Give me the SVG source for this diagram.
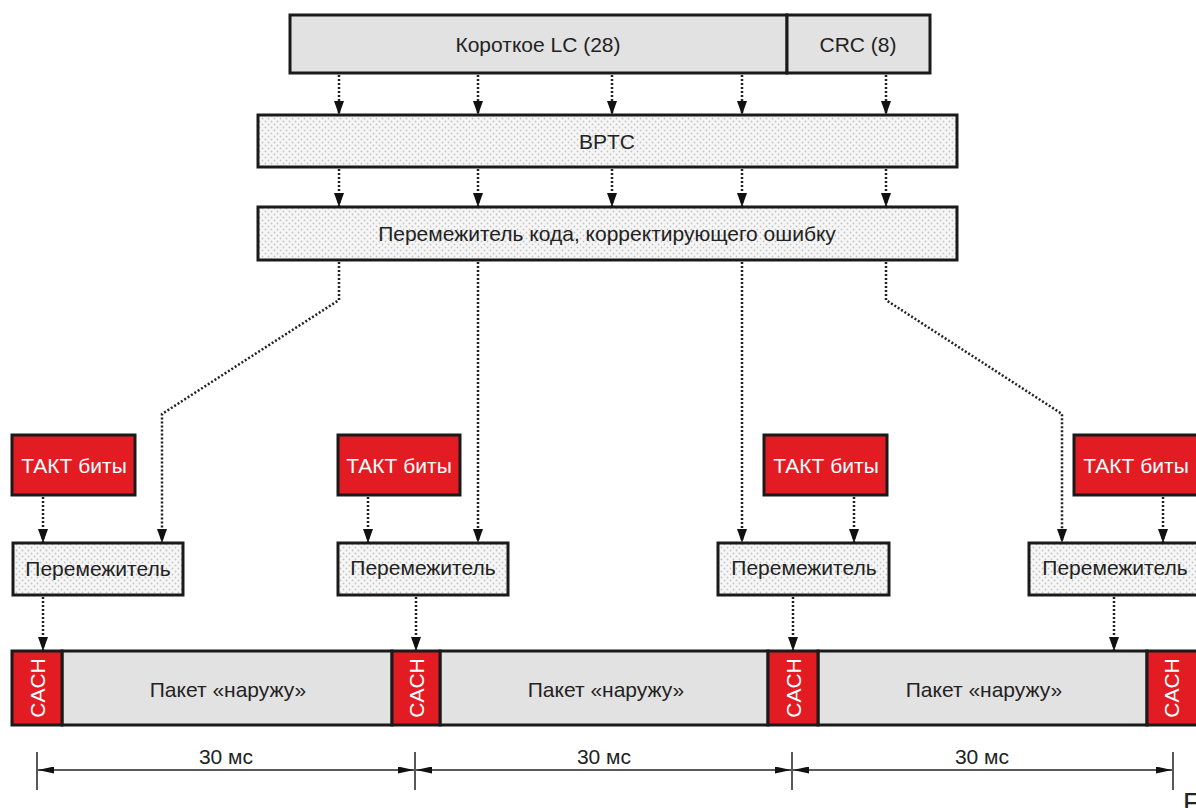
<svg xmlns="http://www.w3.org/2000/svg" width="1196" height="808" viewBox="0 0 1196 808">
<style>
text{font-family:"Liberation Sans",Arial,sans-serif;font-size:21px;fill:#222;text-anchor:middle;dominant-baseline:central}
.gray{fill:#e2e2e2;stroke:#1a1a1a;stroke-width:3}
.dot{fill:url(#dots);stroke:#1a1a1a;stroke-width:3}
.red{fill:#e31b23;stroke:#1a1a1a;stroke-width:3}
.w{fill:#fff}
.conn{fill:none;stroke:#222;stroke-width:2.5;stroke-dasharray:2 2}
.dim{fill:none;stroke:#222;stroke-width:1.5}
</style>
<defs>
<pattern id="dots" width="6" height="6" patternUnits="userSpaceOnUse">
<rect width="6" height="6" fill="#f6f6f6"/>
<circle cx="1.5" cy="1.5" r="0.9" fill="#c4c4c4"/>
<circle cx="4.5" cy="4.5" r="0.9" fill="#c4c4c4"/>
</pattern>
<marker id="ah" viewBox="0 0 14 10" refX="14" refY="5" markerWidth="14" markerHeight="10" orient="auto" markerUnits="userSpaceOnUse">
<path d="M0,0 L14,5 L0,10 z" fill="#111"/>
</marker>
<marker id="dh" viewBox="0 0 16 7" refX="16" refY="3.5" markerWidth="16" markerHeight="7" orient="auto-start-reverse" markerUnits="userSpaceOnUse">
<path d="M0,0 L16,3.5 L0,7 z" fill="#111"/>
</marker>
</defs>
<rect width="1196" height="808" fill="#fff"/>

<g id="lc"><rect class="gray" x="290" y="15" width="497" height="58"/><text x="538" y="44">Короткое LC (28)</text></g>
<g id="crc"><rect class="gray" x="787" y="15" width="143" height="58"/><text x="858" y="44">CRC (8)</text></g>
<g id="bptc"><rect class="dot" x="258" y="115" width="699" height="52"/><text x="607" y="141">BPTC</text></g>
<g id="fec"><rect class="dot" x="258" y="207" width="699" height="53"/><text x="607" y="233">Перемежитель кода, корректирующего ошибку</text></g>

<g id="takt1"><rect class="red" x="12" y="435" width="123" height="60"/><text class="w" x="74" y="465">ТАКТ биты</text></g>
<g id="takt2"><rect class="red" x="338" y="435" width="122" height="60"/><text class="w" x="399" y="465">ТАКТ биты</text></g>
<g id="takt3"><rect class="red" x="764" y="435" width="123" height="60"/><text class="w" x="826" y="465">ТАКТ биты</text></g>
<g id="takt4"><rect class="red" x="1074" y="435" width="130" height="60"/><text class="w" x="1136" y="465">ТАКТ биты</text></g>

<g id="il1"><rect class="dot" x="13" y="543" width="170" height="52"/><text x="98" y="568">Перемежитель</text></g>
<g id="il2"><rect class="dot" x="338" y="543" width="170" height="52"/><text x="423" y="567">Перемежитель</text></g>
<g id="il3"><rect class="dot" x="718" y="543" width="171" height="52"/><text x="804" y="567">Перемежитель</text></g>
<g id="il4"><rect class="dot" x="1029" y="543" width="175" height="52"/><text x="1115" y="567">Перемежитель</text></g>

<g id="pkt1"><rect class="gray" x="62" y="651" width="330" height="74"/><text x="228" y="689">Пакет «наружу»</text></g>
<g id="pkt2"><rect class="gray" x="440" y="651" width="328" height="74"/><text x="606" y="689">Пакет «наружу»</text></g>
<g id="pkt3"><rect class="gray" x="818" y="651" width="329" height="74"/><text x="984" y="689">Пакет «наружу»</text></g>
<g id="cach1"><rect class="red" x="12" y="651" width="50" height="74"/><text class="w" transform="translate(37 688) rotate(-90)" x="0" y="0">CACH</text></g>
<g id="cach2"><rect class="red" x="392" y="651" width="48" height="74"/><text class="w" transform="translate(416 688) rotate(-90)" x="0" y="0">CACH</text></g>
<g id="cach3"><rect class="red" x="768" y="651" width="50" height="74"/><text class="w" transform="translate(793 688) rotate(-90)" x="0" y="0">CACH</text></g>
<g id="cach4"><rect class="red" x="1147" y="651" width="55" height="74"/><text class="w" transform="translate(1171 688) rotate(-90)" x="0" y="0">CACH</text></g>

<g id="connectors">
<path class="conn" marker-end="url(#ah)" d="M339 75 V115"/>
<path class="conn" marker-end="url(#ah)" d="M478 75 V115"/>
<path class="conn" marker-end="url(#ah)" d="M612 75 V115"/>
<path class="conn" marker-end="url(#ah)" d="M742 75 V115"/>
<path class="conn" marker-end="url(#ah)" d="M886 75 V115"/>
<path class="conn" marker-end="url(#ah)" d="M339 169 V207"/>
<path class="conn" marker-end="url(#ah)" d="M478 169 V207"/>
<path class="conn" marker-end="url(#ah)" d="M612 169 V207"/>
<path class="conn" marker-end="url(#ah)" d="M742 169 V207"/>
<path class="conn" marker-end="url(#ah)" d="M886 169 V207"/>
<path class="conn" marker-end="url(#ah)" d="M339 262 V300 L162 414 V543"/>
<path class="conn" marker-end="url(#ah)" d="M478 262 V543"/>
<path class="conn" marker-end="url(#ah)" d="M742 262 V543"/>
<path class="conn" marker-end="url(#ah)" d="M886 262 V300 L1062 414 V543"/>
<path class="conn" marker-end="url(#ah)" d="M43 497 V543"/>
<path class="conn" marker-end="url(#ah)" d="M368 497 V543"/>
<path class="conn" marker-end="url(#ah)" d="M854 497 V543"/>
<path class="conn" marker-end="url(#ah)" d="M1163 497 V543"/>
<path class="conn" marker-end="url(#ah)" d="M43 597 V651"/>
<path class="conn" marker-end="url(#ah)" d="M416 597 V651"/>
<path class="conn" marker-end="url(#ah)" d="M793 597 V651"/>
<path class="conn" marker-end="url(#ah)" d="M1114 597 V651"/>
</g>

<g id="dimensions">
<path class="dim" d="M37 752 V790 M415 752 V790 M792 752 V790 M1173 752 V790"/>
<path class="dim" marker-start="url(#dh)" marker-end="url(#dh)" d="M38 770 H414"/>
<path class="dim" marker-start="url(#dh)" marker-end="url(#dh)" d="M416 770 H791"/>
<path class="dim" marker-start="url(#dh)" marker-end="url(#dh)" d="M793 770 H1172"/>
<text x="226" y="756">30 мс</text>
<text x="604" y="756">30 мс</text>
<text x="982" y="756">30 мс</text>
</g>
<text x="1183" y="812" style="font-size:28px;text-anchor:start;dominant-baseline:auto">F</text>
</svg>
